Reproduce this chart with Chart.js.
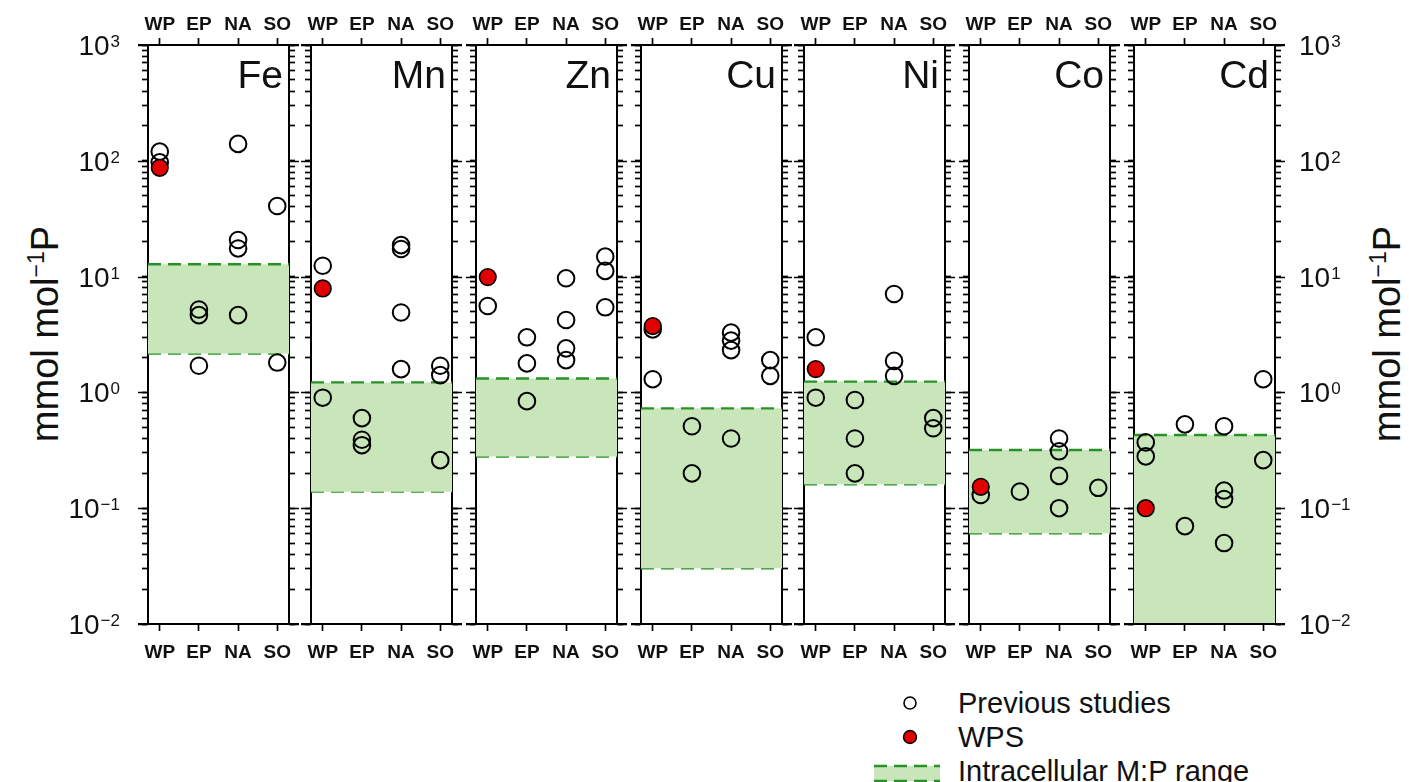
<!DOCTYPE html>
<html><head><meta charset="utf-8">
<script src="https://cdn.jsdelivr.net/npm/chart.js@4.4.1/dist/chart.umd.min.js"></script>
<style>
html,body{margin:0;padding:0;background:#fff;width:1409px;height:782px;overflow:hidden;position:relative;font-family:'Liberation Sans',Arial,sans-serif;}
.pc{position:absolute;top:0;}
.pc canvas{display:block;}
.ytitle{position:absolute;white-space:nowrap;font-size:38px;color:#111;transform:translate(-50%,-50%) rotate(-90deg);line-height:1;}
.ytitle sup{font-size:23px;vertical-align:baseline;position:relative;top:-0.62em;line-height:0;}
.leg{position:absolute;font-size:29px;color:#111;white-space:nowrap;line-height:28px;}
</style></head><body>
<div class="ytitle" style="left:45px;top:334px">mmol mol<sup>−1</sup>P</div>
<div class="ytitle" style="left:1387px;top:334px">mmol mol<sup>−1</sup>P</div>
<svg style="position:absolute;left:0;top:0" width="1409" height="782">
  <circle cx="910" cy="703" r="6" fill="none" stroke="#000" stroke-width="1.6"/>
  <circle cx="910" cy="737" r="6.5" fill="#e00000" stroke="#000" stroke-width="1.4"/>
  <rect x="874" y="766" width="66" height="15" fill="rgb(200,230,186)"/>
  <line x1="874" y1="766" x2="940" y2="766" stroke="rgb(40,145,40)" stroke-width="2.4" stroke-dasharray="13 7"/>
  <line x1="874" y1="781" x2="940" y2="781" stroke="rgb(40,145,40)" stroke-width="2.4" stroke-dasharray="13 7"/>
</svg>
<div class="leg" style="left:958px;top:689px">Previous studies</div>
<div class="leg" style="left:958px;top:723px">WPS</div>
<div class="leg" style="left:958px;top:757px">Intracellular M:P range</div>
<script>
// ---------- data ----------
const categories = ['WP', 'EP', 'NA', 'SO'];
const elements = ['Fe', 'Mn', 'Zn', 'Cu', 'Ni', 'Co', 'Cd'];
// previous studies, per category [WP, EP, NA, SO]
const prevFe = [[120, 97], [5.2, 4.65, 1.70], [140, 20.7, 17.5, 4.65], [40.7, 1.81]];
const prevMn = [[12.4, 0.90], [0.60, 0.39, 0.35], [18.7, 17.3, 4.9, 1.59], [1.70, 1.41, 0.26]];
const prevZn = [[5.57], [2.99, 1.78, 0.84], [9.67, 4.22, 2.40, 1.90], [14.9, 11.2, 5.43]];
const prevCu = [[3.5, 1.30], [0.51, 0.20], [3.28, 2.80, 2.32, 0.40], [1.90, 1.39]];
const prevNi = [[2.99, 0.90], [0.86, 0.40, 0.20], [7.08, 1.87, 1.39], [0.60, 0.49]];
const prevCo = [[0.130], [0.139], [0.40, 0.31, 0.19, 0.10], [0.150]];
const prevCd = [[0.37, 0.28], [0.53, 0.070], [0.51, 0.142, 0.120, 0.050], [1.30, 0.26]];
// WPS values (all at WP)
const wpsValues = [87, 7.9, 9.9, 3.74, 1.59, 0.153, 0.100];
// intracellular M:P range
const bandLow = [2.17, 0.139, 0.279, 0.0303, 0.161, 0.0607, 0.001];
const bandHigh = [12.8, 1.22, 1.32, 0.728, 1.24, 0.318, 0.429];
// y axis
const yMin = 0.01, yMax = 1000;
const yTickExponents = [-2, -1, 0, 1, 2, 3];

// ---------- layout ----------
const prevAll = [prevFe, prevMn, prevZn, prevCu, prevNi, prevCo, prevCd];
const panelLeft = [148, 311, 476, 641, 804, 969, 1134];
const PW = 141, TOP = 45, BOT = 624, CH = 672, TMAJ = 10, TMIN = 6;
const GREEN = 'rgb(40,145,40)', FILL = 'rgb(200,230,186)';
const FONT = "'Liberation Sans', Arial, sans-serif";

const logTicks = s => {
  const t = [];
  for (let e = Math.log10(yMin); e < Math.log10(yMax); e++)
    for (let m = 1; m < 10; m++) t.push({ value: Number((m * Math.pow(10, e)).toPrecision(3)) });
  t.push({ value: yMax });
  s.ticks = t;
};
const catTicks = s => { s.ticks = categories.map((c, k) => ({ value: k })); };

const panelDecor = {
  id: 'panelDecor',
  afterDraw(chart, args, opts) {
    const ctx = chart.ctx, a = chart.chartArea, ys = chart.scales.y;
    ctx.save();
    ctx.strokeStyle = '#000';
    ctx.lineWidth = 2;
    ctx.beginPath();
    ctx.moveTo(a.left - TMAJ, a.top); ctx.lineTo(a.right + TMAJ, a.top);
    ctx.moveTo(a.left - TMAJ, a.bottom); ctx.lineTo(a.right + TMAJ, a.bottom);
    ctx.stroke();
    ctx.lineWidth = 1.7;
    ctx.beginPath();
    yTickExponents.forEach(e => {
      const y = Math.round(ys.getPixelForValue(Math.pow(10, e))) + 0.5;
      ctx.moveTo(a.left - TMAJ, y); ctx.lineTo(a.left, y);
      ctx.moveTo(a.right, y); ctx.lineTo(a.right + TMAJ, y);
    });
    ctx.stroke();
    ctx.fillStyle = '#111';
    ctx.font = '39px ' + FONT;
    ctx.textAlign = 'right';
    ctx.textBaseline = 'alphabetic';
    ctx.fillText(opts.name, a.right - 6, a.top + 43);
    if (opts.labels) {
      yTickExponents.forEach(e => {
        const y = ys.getPixelForValue(Math.pow(10, e));
        const expStr = e < 0 ? '\u2212' + Math.abs(e) : String(e);
        ctx.font = '28px ' + FONT;
        const w1 = ctx.measureText('10').width;
        ctx.font = '17px ' + FONT;
        const w2 = ctx.measureText(expStr).width;
        let x0 = opts.labels === 'left' ? a.left - 29 - (w1 + w2) : a.right + 24;
        ctx.textAlign = 'left';
        ctx.font = '28px ' + FONT;
        ctx.fillText('10', x0, y + 10);
        ctx.font = '17px ' + FONT;
        ctx.fillText(expStr, x0 + w1 + 1, y + 2);
      });
    }
    ctx.restore();
  }
};

elements.forEach((el, i) => {
  const L = panelLeft[i], R = L + PW;
  const cl = i === 0 ? 0 : L - 11;
  const cr = i === elements.length - 1 ? 1372 : R + 11;
  const div = document.createElement('div');
  div.className = 'pc';
  div.style.left = cl + 'px';
  div.style.width = (cr - cl) + 'px';
  div.style.height = CH + 'px';
  const cv = document.createElement('canvas');
  cv.width = cr - cl; cv.height = CH;
  cv.style.width = (cr - cl) + 'px'; cv.style.height = CH + 'px';
  div.appendChild(cv);
  document.body.appendChild(div);

  const prevPts = [];
  prevAll[i].forEach((vals, ci) => vals.forEach(v => prevPts.push({ x: ci, y: v })));

  const xAxis = (pos) => ({
    type: 'linear', position: pos, min: -0.3, max: 3.3,
    afterBuildTicks: catTicks,
    ticks: { callback: v => categories[v], font: { family: FONT, size: 19, weight: 'bold' }, color: '#111',
      padding: pos === 'top' ? 2 : 10, maxRotation: 0, autoSkip: false },
    grid: { drawOnChartArea: false, drawTicks: true, tickLength: 7, tickColor: '#000', tickWidth: 1.7 },
    border: { display: true, color: '#000', width: 2 },
    afterFit: s => { s.height = pos === 'top' ? TOP : CH - BOT; s.paddingLeft = 0; s.paddingRight = 0; }
  });
  const yAxis = (pos) => ({
    type: 'logarithmic', position: pos, min: yMin, max: yMax,
    afterBuildTicks: logTicks,
    ticks: { display: false },
    grid: { drawOnChartArea: false, drawTicks: true, tickLength: TMIN, tickColor: '#000', tickWidth: 1.7 },
    border: { display: true, color: '#000', width: 2 },
    afterFit: s => { s.width = pos === 'left' ? L - cl : cr - R; s.paddingTop = 0; s.paddingBottom = 0; }
  });

  new Chart(cv, {
    type: 'scatter',
    data: {
      datasets: [
        { type: 'line', label: 'low', data: [{ x: -0.3, y: bandLow[i] }, { x: 3.3, y: bandLow[i] }],
          borderColor: GREEN, borderWidth: 2.4, borderDash: [13, 7], pointRadius: 0, fill: false, order: 3 },
        { type: 'line', label: 'Intracellular M:P range', data: [{ x: -0.3, y: bandHigh[i] }, { x: 3.3, y: bandHigh[i] }],
          borderColor: GREEN, borderWidth: 2.4, borderDash: [13, 7], pointRadius: 0, fill: 0, backgroundColor: FILL, order: 2 },
        { label: 'Previous studies', data: prevPts, pointRadius: 8.3, borderColor: '#000', borderWidth: 2,
          backgroundColor: 'rgba(0,0,0,0)', order: 1 },
        { label: 'WPS', data: [{ x: 0, y: wpsValues[i] }], pointRadius: 8.3, borderColor: '#000', borderWidth: 1.6,
          backgroundColor: '#e00000', order: 0 }
      ]
    },
    options: {
      responsive: false, animation: false, events: [],
      layout: { padding: 0 },
      plugins: {
        legend: { display: false }, tooltip: { enabled: false },
        panelDecor: { name: el, labels: i === 0 ? 'left' : (i === elements.length - 1 ? 'right' : null) }
      },
      scales: { x: xAxis('bottom'), x2: xAxis('top'), y: yAxis('left'), y2: yAxis('right') }
    },
    plugins: [panelDecor]
  });
});
</script>
</body></html>
